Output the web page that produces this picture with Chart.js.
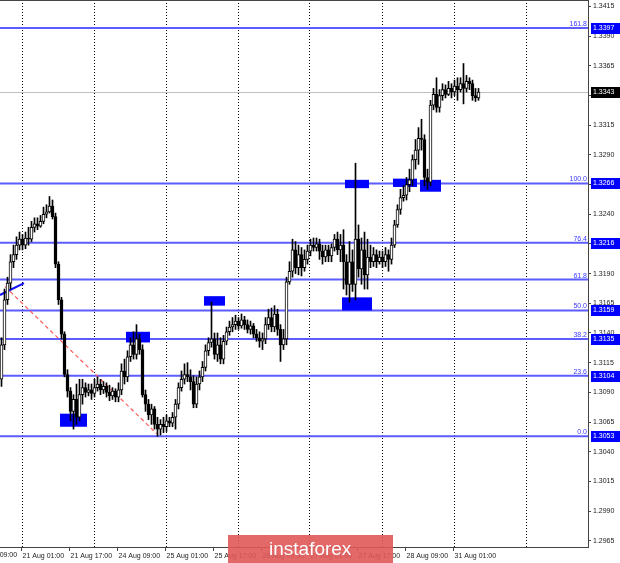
<!DOCTYPE html>
<html>
<head>
<meta charset="utf-8">
<script src="https://cdn.jsdelivr.net/npm/chart.js@4"></script>
<style>
html, body { margin: 0; padding: 0; background: #fff; }
</style>
</head>
<body>
<canvas id="chart" width="620" height="563"></canvas>
<script>
// H1 candles, 20 Aug 18:00 .. 31 Aug 08:00
const open = [
  1.3101, 1.3130, 1.3168, 1.3182, 1.3200, 1.3206, 1.3214, 1.3219, 1.3214, 1.3220,
  1.3219, 1.3229, 1.3232, 1.3230, 1.3234, 1.3240, 1.3242, 1.3247, 1.3238, 1.3198,
  1.3168, 1.3139, 1.3105, 1.3091, 1.3074, 1.3084, 1.3069, 1.3088, 1.3094, 1.3090,
  1.3092, 1.3089, 1.3094, 1.3097, 1.3092, 1.3095, 1.3090, 1.3087, 1.3091, 1.3086,
  1.3092, 1.3108, 1.3103, 1.3120, 1.3130, 1.3122, 1.3135, 1.3126, 1.3088, 1.3080,
  1.3071, 1.3076, 1.3063, 1.3059, 1.3063, 1.3061, 1.3066, 1.3064, 1.3069, 1.3080,
  1.3094, 1.3101, 1.3105, 1.3103, 1.3099, 1.3080, 1.3097, 1.3103, 1.3111, 1.3125,
  1.3132, 1.3135, 1.3122, 1.3130, 1.3118, 1.3133, 1.3141, 1.3145, 1.3147, 1.3150,
  1.3146, 1.3151, 1.3147, 1.3143, 1.3146, 1.3139, 1.3136, 1.3133, 1.3135, 1.3147,
  1.3153, 1.3145, 1.3156, 1.3143, 1.3130, 1.3135, 1.3183, 1.3192, 1.3210, 1.3195,
  1.3206, 1.3195, 1.3202, 1.3209, 1.3214, 1.3212, 1.3215, 1.3209, 1.3204, 1.3210,
  1.3205, 1.3212, 1.3219, 1.3210, 1.3214, 1.3200, 1.3181, 1.3200, 1.3181, 1.3219,
  1.3194, 1.3210, 1.3189, 1.3204, 1.3200, 1.3206, 1.3200, 1.3204, 1.3200, 1.3206,
  1.3202, 1.3214, 1.3231, 1.3244, 1.3254, 1.3256, 1.3265, 1.3269, 1.3286, 1.3294,
  1.3304, 1.3303, 1.3271, 1.3267, 1.3332, 1.3341, 1.3330, 1.3340, 1.3345, 1.3341,
  1.3346, 1.3343, 1.3348, 1.3345, 1.3350, 1.3346, 1.3352, 1.3350, 1.3340, 1.3338
];
const high = [
  1.3136, 1.3177, 1.3187, 1.3206, 1.3214, 1.3221, 1.3225, 1.3223, 1.3225, 1.3229,
  1.3234, 1.3237, 1.3237, 1.3239, 1.3246, 1.3248, 1.3255, 1.3252, 1.3241, 1.3200,
  1.3170, 1.3141, 1.3109, 1.3094, 1.3088, 1.3097, 1.3101, 1.3101, 1.3098, 1.3097,
  1.3097, 1.3101, 1.3103, 1.3101, 1.3099, 1.3098, 1.3096, 1.3094, 1.3093, 1.3098,
  1.3114, 1.3118, 1.3125, 1.3136, 1.3141, 1.3147, 1.3139, 1.3130, 1.3092, 1.3084,
  1.3080, 1.3078, 1.3069, 1.3067, 1.3069, 1.3071, 1.3069, 1.3073, 1.3084, 1.3098,
  1.3108, 1.3114, 1.3115, 1.3109, 1.3104, 1.3103, 1.3108, 1.3116, 1.3130, 1.3136,
  1.3166, 1.3140, 1.3140, 1.3136, 1.3138, 1.3145, 1.3150, 1.3153, 1.3155, 1.3153,
  1.3156, 1.3154, 1.3151, 1.3150, 1.3148, 1.3143, 1.3141, 1.3140, 1.3153, 1.3160,
  1.3161, 1.3163, 1.3160, 1.3147, 1.3143, 1.3187, 1.3200, 1.3219, 1.3217, 1.3214,
  1.3212, 1.3210, 1.3214, 1.3219, 1.3220, 1.3220, 1.3219, 1.3214, 1.3214, 1.3214,
  1.3215, 1.3223, 1.3225, 1.3223, 1.3227, 1.3206, 1.3217, 1.3210, 1.3283, 1.3231,
  1.3220, 1.3225, 1.3219, 1.3214, 1.3212, 1.3210, 1.3209, 1.3209, 1.3212, 1.3210,
  1.3220, 1.3235, 1.3248, 1.3261, 1.3264, 1.3271, 1.3278, 1.3290, 1.3303, 1.3313,
  1.3320, 1.3307, 1.3278, 1.3336, 1.3346, 1.3355, 1.3345, 1.3350, 1.3349, 1.3352,
  1.3350, 1.3353, 1.3355, 1.3355, 1.3367, 1.3357, 1.3355, 1.3353, 1.3346, 1.3346
];
const low = [
  1.3095, 1.3126, 1.3164, 1.3177, 1.3195, 1.3202, 1.3210, 1.3210, 1.3211, 1.3214,
  1.3217, 1.3225, 1.3227, 1.3229, 1.3232, 1.3237, 1.3241, 1.3236, 1.3195, 1.3164,
  1.3135, 1.3103, 1.3086, 1.3066, 1.3059, 1.3063, 1.3066, 1.3080, 1.3086, 1.3087,
  1.3084, 1.3086, 1.3091, 1.3088, 1.3089, 1.3086, 1.3083, 1.3084, 1.3082, 1.3082,
  1.3088, 1.3097, 1.3099, 1.3116, 1.3118, 1.3118, 1.3122, 1.3086, 1.3074, 1.3067,
  1.3063, 1.3059, 1.3053, 1.3054, 1.3056, 1.3057, 1.3061, 1.3061, 1.3059, 1.3076,
  1.3091, 1.3097, 1.3099, 1.3092, 1.3077, 1.3077, 1.3092, 1.3099, 1.3108, 1.3121,
  1.3128, 1.3118, 1.3116, 1.3114, 1.3114, 1.3130, 1.3138, 1.3141, 1.3143, 1.3143,
  1.3144, 1.3143, 1.3140, 1.3139, 1.3136, 1.3133, 1.3128, 1.3126, 1.3131, 1.3143,
  1.3141, 1.3141, 1.3138, 1.3116, 1.3126, 1.3130, 1.3181, 1.3187, 1.3190, 1.3189,
  1.3188, 1.3192, 1.3198, 1.3205, 1.3209, 1.3209, 1.3202, 1.3198, 1.3200, 1.3200,
  1.3200, 1.3209, 1.3206, 1.3200, 1.3177, 1.3172, 1.3166, 1.3175, 1.3168, 1.3187,
  1.3181, 1.3177, 1.3177, 1.3195, 1.3196, 1.3195, 1.3198, 1.3195, 1.3196, 1.3192,
  1.3198, 1.3212, 1.3229, 1.3240, 1.3251, 1.3252, 1.3259, 1.3264, 1.3278, 1.3282,
  1.3294, 1.3264, 1.3261, 1.3264, 1.3328, 1.3326, 1.3326, 1.3336, 1.3338, 1.3340,
  1.3338, 1.3340, 1.3336, 1.3343, 1.3333, 1.3343, 1.3345, 1.3336, 1.3335, 1.3336
];
const close = [
  1.3130, 1.3168, 1.3182, 1.3200, 1.3206, 1.3214, 1.3219, 1.3214, 1.3220, 1.3219,
  1.3229, 1.3232, 1.3230, 1.3234, 1.3240, 1.3242, 1.3247, 1.3238, 1.3198, 1.3168,
  1.3139, 1.3105, 1.3091, 1.3074, 1.3084, 1.3069, 1.3088, 1.3094, 1.3090, 1.3092,
  1.3089, 1.3094, 1.3097, 1.3092, 1.3095, 1.3090, 1.3087, 1.3091, 1.3086, 1.3092,
  1.3108, 1.3103, 1.3120, 1.3130, 1.3122, 1.3135, 1.3126, 1.3088, 1.3080, 1.3071,
  1.3076, 1.3063, 1.3059, 1.3063, 1.3061, 1.3066, 1.3064, 1.3069, 1.3080, 1.3094,
  1.3101, 1.3105, 1.3103, 1.3099, 1.3080, 1.3097, 1.3103, 1.3111, 1.3125, 1.3132,
  1.3135, 1.3122, 1.3130, 1.3118, 1.3133, 1.3141, 1.3145, 1.3147, 1.3150, 1.3146,
  1.3151, 1.3147, 1.3143, 1.3146, 1.3139, 1.3136, 1.3133, 1.3135, 1.3147, 1.3153,
  1.3145, 1.3156, 1.3143, 1.3130, 1.3135, 1.3183, 1.3192, 1.3210, 1.3195, 1.3206,
  1.3195, 1.3202, 1.3209, 1.3214, 1.3212, 1.3215, 1.3209, 1.3204, 1.3210, 1.3205,
  1.3212, 1.3219, 1.3210, 1.3214, 1.3200, 1.3181, 1.3200, 1.3181, 1.3219, 1.3194,
  1.3210, 1.3189, 1.3204, 1.3200, 1.3206, 1.3200, 1.3204, 1.3200, 1.3206, 1.3202,
  1.3214, 1.3231, 1.3244, 1.3254, 1.3256, 1.3265, 1.3269, 1.3286, 1.3294, 1.3304,
  1.3303, 1.3271, 1.3267, 1.3332, 1.3341, 1.3330, 1.3340, 1.3345, 1.3341, 1.3346,
  1.3343, 1.3348, 1.3345, 1.3350, 1.3346, 1.3352, 1.3350, 1.3340, 1.3338, 1.3343
];

// visible bar slots, including empty space on the right
const slotCount = 196;
const timeTickIdx = [7, 23, 39, 55, 71, 87, 103, 119, 135, 151];
const timeTickLabels = ['21 Aug 01:00', '21 Aug 17:00', '24 Aug 09:00', '25 Aug 01:00', '25 Aug 17:00',
  '26 Aug 09:00', '27 Aug 01:00', '27 Aug 17:00', '28 Aug 09:00', '31 Aug 01:00'];
const dayGridIdx = [7, 31, 55, 79, 103, 127, 151, 175];

const priceTicks = [1.2965, 1.2990, 1.3015, 1.3040, 1.3065, 1.3090, 1.3115, 1.3140, 1.3165, 1.3190,
  1.3215, 1.3240, 1.3265, 1.3290, 1.3315, 1.3340, 1.3365, 1.3390, 1.3415];

// fibonacci grid
const fibLevels = [1.3397, 1.3266, 1.3216, 1.3185, 1.3159, 1.3135, 1.3104, 1.3053];
const fibNames = ['161.8', '100.0', '76.4', '61.8', '50.0', '38.2', '23.6', '0.0'];
const fibTagged = [true, true, true, false, true, true, true, true];
const lastPrice = 1.3343;

// blue zones: [fromIdx, toIdx, top, bottom]
const zones = [
  [19.5, 28.5, 1.3072, 1.3061],
  [41.5, 49.5, 1.3141, 1.3132],
  [67.5, 74.5, 1.3171, 1.3163],
  [114.5, 122.5, 1.3269, 1.3262],
  [130.5, 138.5, 1.3270, 1.3263],
  [139.5, 146.5, 1.3269, 1.3259],
  [113.5, 123.5, 1.3170, 1.3159]
];
const trendLine = [[-0.5, 1.3172], [7.5, 1.3182]];
const fibBaseLine = [[1.2, 1.3179], [51.8, 1.3055]];

const FONT = 'Liberation Sans';

const slots = Array.from({ length: slotCount }, (_, i) => String(i));
const bodies = open.map((o, i) => [Math.min(o, close[i]), Math.max(o, close[i])]);
const wicks = low.map((l, i) => [l, high[i]]);
const bodyFill = open.map((o, i) => close[i] >= o ? '#ffffff' : '#000000');

function tickText(i) {
  const k = timeTickIdx.indexOf(i);
  return k >= 0 ? timeTickLabels[k] : '';
}

function noPad(s) {
  s.paddingTop = 0; s.paddingBottom = 0; s.paddingLeft = 0; s.paddingRight = 0;
}

const overlay = {
  id: 'overlay',
  beforeDatasetsDraw(chart) {
    const { ctx, chartArea: a, scales: { x, y } } = chart;
    ctx.save();
    ctx.beginPath();
    ctx.rect(a.left, a.top, a.right - a.left, a.bottom - a.top);
    ctx.clip();

    // daily dotted grid
    ctx.strokeStyle = '#000';
    ctx.lineWidth = 1;
    ctx.setLineDash([1, 2]);
    dayGridIdx.forEach(i => {
      const px = Math.round(x.getPixelForValue(i)) - 0.5;
      ctx.beginPath(); ctx.moveTo(px, a.top); ctx.lineTo(px, a.bottom); ctx.stroke();
    });
    ctx.setLineDash([]);

    // last price line
    const lp = Math.round(y.getPixelForValue(lastPrice)) + 0.5;
    ctx.strokeStyle = '#c0c0c0';
    ctx.beginPath(); ctx.moveTo(a.left, lp); ctx.lineTo(a.right, lp); ctx.stroke();

    // fib levels
    ctx.strokeStyle = '#5c5cff';
    ctx.lineWidth = 2;
    fibLevels.forEach(v => {
      const py = y.getPixelForValue(v);
      ctx.beginPath(); ctx.moveTo(a.left, py); ctx.lineTo(a.right, py); ctx.stroke();
    });

    // fib base line (dashed red)
    ctx.strokeStyle = '#ff5c5c';
    ctx.lineWidth = 1.2;
    ctx.setLineDash([4, 3]);
    ctx.beginPath();
    ctx.moveTo(x.getPixelForValue(fibBaseLine[0][0]), y.getPixelForValue(fibBaseLine[0][1]));
    ctx.lineTo(x.getPixelForValue(fibBaseLine[1][0]), y.getPixelForValue(fibBaseLine[1][1]));
    ctx.stroke();
    ctx.setLineDash([]);

    // trend line
    ctx.strokeStyle = '#1010ff';
    ctx.lineWidth = 2;
    ctx.beginPath();
    ctx.moveTo(x.getPixelForValue(trendLine[0][0]), y.getPixelForValue(trendLine[0][1]));
    ctx.lineTo(x.getPixelForValue(trendLine[1][0]), y.getPixelForValue(trendLine[1][1]));
    ctx.stroke();

    // zones
    ctx.fillStyle = '#0000ff';
    zones.forEach(z => {
      const x0 = x.getPixelForValue(z[0]), x1 = x.getPixelForValue(z[1]);
      const y0 = y.getPixelForValue(z[2]), y1 = y.getPixelForValue(z[3]);
      ctx.fillRect(x0, y0, x1 - x0, y1 - y0);
    });
    ctx.restore();
  },
  afterDraw(chart) {
    const { ctx, chartArea: a, scales: { x, y } } = chart;
    ctx.save();
    // top frame
    ctx.strokeStyle = '#444';
    ctx.lineWidth = 1;
    ctx.beginPath(); ctx.moveTo(a.left, a.top + 0.5); ctx.lineTo(a.right, a.top + 0.5); ctx.stroke();

    // level names
    ctx.font = '7px ' + FONT;
    ctx.fillStyle = '#3a3aff';
    ctx.textAlign = 'right';
    ctx.textBaseline = 'alphabetic';
    fibLevels.forEach((v, i) => {
      ctx.fillText(fibNames[i], a.right - 1, y.getPixelForValue(v) - 2);
    });

    // price tags on the axis
    ctx.textAlign = 'left';
    ctx.textBaseline = 'middle';
    const tag = (v, bg) => {
      const py = Math.round(y.getPixelForValue(v));
      ctx.fillStyle = bg;
      ctx.fillRect(a.right + 3, py - 5, 29, 11);
      ctx.fillStyle = '#fff';
      ctx.fillText(v.toFixed(4), a.right + 5, py + 0.5);
    };
    fibLevels.forEach((v, i) => { if (fibTagged[i]) tag(v, '#0000ff'); });
    tag(lastPrice, '#000');

    // first, partly visible time label
    ctx.fillStyle = '#222';
    ctx.textBaseline = 'top';
    ctx.fillText('20 Aug 09:00', x.getPixelForValue(-9) + 1, a.bottom + 5);

    // watermark
    ctx.fillStyle = 'rgba(224, 88, 88, 0.9)';
    ctx.fillRect(228, 535, 165, 28);
    ctx.fillStyle = '#fff';
    ctx.font = '19px ' + FONT;
    ctx.textBaseline = 'alphabetic';
    ctx.fillText('instaforex', 269, 555);
    ctx.restore();
  }
};

new Chart(document.getElementById('chart'), {
  type: 'bar',
  data: {
    labels: slots,
    datasets: [
      {
        label: 'body', data: bodies, backgroundColor: bodyFill, borderColor: '#000',
        borderWidth: 1, borderSkipped: false, barThickness: 3, minBarLength: 1,
        grouped: false, order: 0
      },
      {
        label: 'wick', data: wicks, backgroundColor: '#000', borderWidth: 0,
        barThickness: 1, grouped: false, order: 1
      }
    ]
  },
  options: {
    responsive: false,
    animation: false,
    layout: { padding: 0 },
    plugins: { legend: { display: false }, tooltip: { enabled: false } },
    scales: {
      x: {
        offset: true,
        grid: {
          display: true, drawOnChartArea: false, tickLength: 4,
          color: c => tickText(c.index) ? '#444' : 'rgba(0,0,0,0)'
        },
        border: { display: true, color: '#444' },
        ticks: {
          autoSkip: false, maxRotation: 0, minRotation: 0, align: 'start', padding: 1,
          font: { size: 7, family: FONT }, color: '#222',
          callback: (v, i) => tickText(i)
        },
        afterFit: s => { s.height = 16; noPad(s); }
      },
      y: {
        position: 'right',
        min: 1.29597,
        max: 1.34205,
        afterBuildTicks: s => { s.ticks = priceTicks.map(v => ({ value: v })); },
        grid: { drawOnChartArea: false, tickLength: 3, color: '#444' },
        border: { color: '#444' },
        ticks: {
          padding: 2, font: { size: 7, family: FONT }, color: '#222',
          callback: v => v.toFixed(4)
        },
        afterFit: s => { s.width = 32; noPad(s); }
      }
    }
  },
  plugins: [overlay]
});
</script>
</body>
</html>
